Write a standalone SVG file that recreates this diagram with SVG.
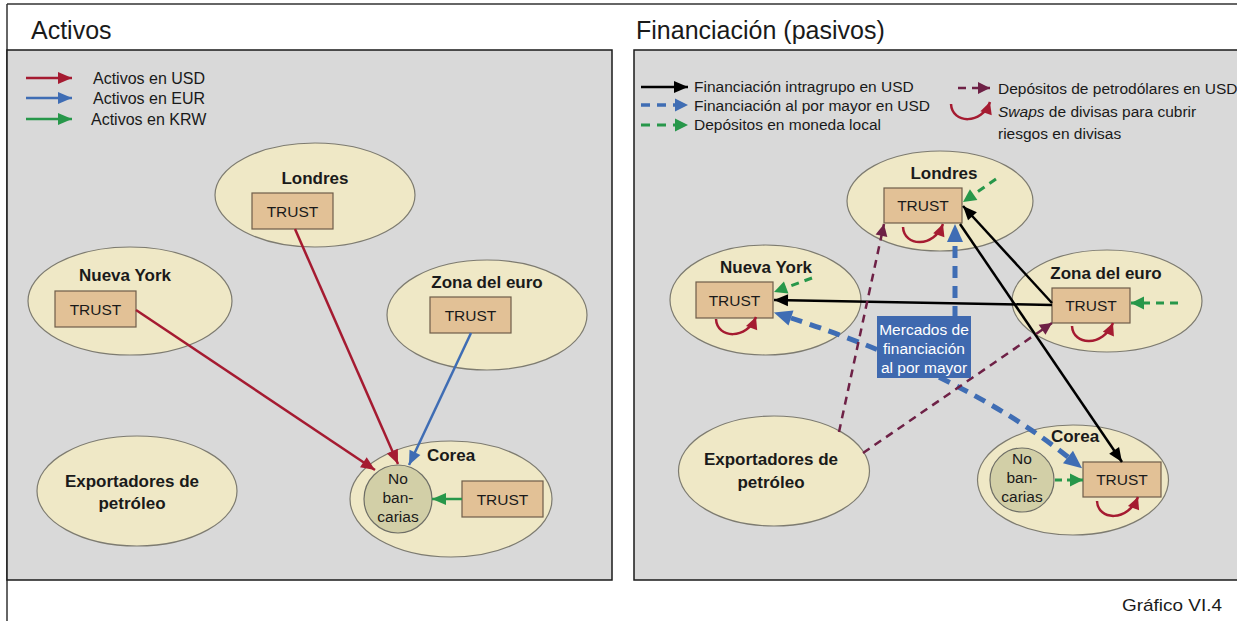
<svg xmlns="http://www.w3.org/2000/svg" width="1237" height="621" viewBox="0 0 1237 621">
<defs>
<style>
.t{font-family:"Liberation Sans",Arial,sans-serif;fill:#1a1a1a}
.title{font-size:25px}
.leg{font-size:15.5px}
.legl{font-size:16px}
.lbl{font-size:17px;font-weight:bold;text-anchor:middle}
.tr{font-size:15.5px;text-anchor:middle}
.wt{font-size:15.5px;text-anchor:middle;fill:#ffffff}
.ell{fill:#efe8c6;stroke:#7d7b70;stroke-width:1.2}
.box{fill:#e2c196;stroke:#6e5d4a;stroke-width:1.2}
.circ{fill:#d2cfa7;stroke:#6e6e66;stroke-width:1.2}
.panel{fill:#d9d9d9;stroke:#1a1a1a;stroke-width:1.5}
.red{stroke:#a51b31;stroke-width:2.5;fill:none}
.blue{stroke:#3f6db4;stroke-width:2.5;fill:none}
.green{stroke:#27974a;stroke-width:2.5;fill:none}
.blk{stroke:#000;stroke-width:2.5;fill:none}
.bdash{stroke:#3f6db4;stroke-width:5;fill:none;stroke-dasharray:12 8}
.gdash{stroke:#27974a;stroke-width:3;fill:none;stroke-dasharray:8 6}
.pdash{stroke:#6e2146;stroke-width:2.5;fill:none;stroke-dasharray:8 6}
.swap{stroke:#a51b31;stroke-width:2.5;fill:none}
</style>
<marker id="mRed" markerUnits="userSpaceOnUse" markerWidth="14" markerHeight="12" viewBox="0 0 14 12" refX="14" refY="6" orient="auto" overflow="visible"><path d="M0,0 L14,6 L0,12 z" fill="#a51b31"/></marker>
<marker id="mBlue" markerUnits="userSpaceOnUse" markerWidth="14" markerHeight="12" viewBox="0 0 14 12" refX="14" refY="6" orient="auto" overflow="visible"><path d="M0,0 L14,6 L0,12 z" fill="#3f6db4"/></marker>
<marker id="mGreen" markerUnits="userSpaceOnUse" markerWidth="14" markerHeight="12" viewBox="0 0 14 12" refX="14" refY="6" orient="auto" overflow="visible"><path d="M0,0 L14,6 L0,12 z" fill="#27974a"/></marker>
<marker id="mBlk" markerUnits="userSpaceOnUse" markerWidth="14" markerHeight="12" viewBox="0 0 14 12" refX="14" refY="6" orient="auto" overflow="visible"><path d="M0,0 L14,6 L0,12 z" fill="#000"/></marker>
<marker id="mPur" markerUnits="userSpaceOnUse" markerWidth="12" markerHeight="12" viewBox="0 0 12 12" refX="12" refY="6" orient="auto" overflow="visible"><path d="M0,0 L12,6 L0,12 z" fill="#6e2146"/></marker>
<marker id="mGd" markerUnits="userSpaceOnUse" markerWidth="13" markerHeight="13" viewBox="0 0 13 13" refX="13" refY="6.5" orient="auto" overflow="visible"><path d="M0,0 L13,6.5 L0,13 z" fill="#27974a"/></marker>
<marker id="mBd" markerUnits="userSpaceOnUse" markerWidth="18" markerHeight="16" viewBox="0 0 18 16" refX="0" refY="8" orient="auto-start-reverse" overflow="visible"><path d="M0,0 L18,8 L0,16 z" fill="#3f6db4"/></marker>
<marker id="mBdS" markerUnits="userSpaceOnUse" markerWidth="13" markerHeight="13" viewBox="0 0 13 13" refX="0" refY="6.5" orient="auto" overflow="visible"><path d="M0,0 L13,6.5 L0,13 z" fill="#3f6db4"/></marker>
<marker id="mSw" markerUnits="userSpaceOnUse" markerWidth="12" markerHeight="12" viewBox="0 0 12 12" refX="12" refY="6" orient="auto" overflow="visible"><path d="M0,0 L12,6 L0,12 z" fill="#a51b31"/></marker>
</defs>

<rect x="0" y="0" width="1237" height="621" fill="#ffffff"/>
<line x1="7" y1="4" x2="1237" y2="4" stroke="#333" stroke-width="1.5"/>
<line x1="7" y1="4" x2="7" y2="621" stroke="#333" stroke-width="1.5"/>

<!-- Left panel -->
<rect class="panel" x="7" y="50" width="605" height="530"/>
<text class="t title" x="31" y="39">Activos</text>

<g id="legend-left">
<line class="red" x1="26" y1="78" x2="72" y2="78" marker-end="url(#mRed)"/>
<line class="blue" x1="26" y1="98" x2="72" y2="98" marker-end="url(#mBlue)"/>
<line class="green" x1="26" y1="119" x2="72" y2="119" marker-end="url(#mGreen)"/>
<text class="t legl" x="93" y="84">Activos en USD</text>
<text class="t legl" x="93" y="104">Activos en EUR</text>
<text class="t legl" x="91" y="125">Activos en KRW</text>
</g>

<g id="l-londres">
<ellipse class="ell" cx="315" cy="195" rx="100" ry="52"/>
<text class="t lbl" x="315" y="184">Londres</text>
<rect class="box" x="252" y="193" width="81" height="36"/>
<text class="t tr" x="292.5" y="217">TRUST</text>
</g>
<g id="l-nuevayork">
<ellipse class="ell" cx="130" cy="301" rx="102" ry="54"/>
<text class="t lbl" x="125" y="281">Nueva York</text>
<rect class="box" x="55" y="291" width="81" height="36"/>
<text class="t tr" x="95.5" y="315">TRUST</text>
</g>
<g id="l-zona">
<ellipse class="ell" cx="487" cy="315" rx="100" ry="55"/>
<text class="t lbl" x="487" y="288">Zona del euro</text>
<rect class="box" x="430" y="297" width="81" height="36"/>
<text class="t tr" x="470.5" y="321">TRUST</text>
</g>
<g id="l-export">
<ellipse class="ell" cx="137" cy="491" rx="100" ry="55"/>
<text class="t lbl" x="132" y="487">Exportadores de</text>
<text class="t lbl" x="132" y="509">petróleo</text>
</g>
<g id="l-corea">
<ellipse class="ell" cx="451" cy="499" rx="101" ry="58"/>
<text class="t lbl" x="451" y="461">Corea</text>
<rect class="box" x="462" y="481" width="81" height="36"/>
<text class="t tr" x="502.5" y="505">TRUST</text>
</g>
<g id="l-nobanc">
<circle class="circ" cx="398" cy="499" r="34"/>
<text class="t tr" x="398" y="484">No</text>
<text class="t tr" x="398" y="503">ban-</text>
<text class="t tr" x="398" y="522">carias</text>
</g>

<g id="l-connectors">
<line class="red" x1="136" y1="310" x2="375" y2="470" marker-end="url(#mRed)"/>
<line class="red" x1="295" y1="229" x2="398" y2="464" marker-end="url(#mRed)"/>
<line class="blue" x1="471" y1="333" x2="409" y2="465" marker-end="url(#mBlue)"/>
<line class="green" x1="462" y1="499" x2="432" y2="499" marker-end="url(#mGreen)"/>
</g>

<!-- Right panel -->
<rect class="panel" x="634" y="50" width="610" height="530"/>
<text class="t title" x="636" y="39">Financiación (pasivos)</text>

<g id="legend-right">
<line class="blk" x1="641" y1="87" x2="688" y2="87" marker-end="url(#mBlk)"/>
<line class="bdash" x1="641" y1="105" x2="675" y2="105" style="stroke-width:3.5;stroke-dasharray:9 7" marker-end="url(#mBdS)"/>
<line class="gdash" x1="641" y1="125" x2="688" y2="125" style="stroke-dasharray:9 7" marker-end="url(#mGd)"/>
<text class="t leg" x="694" y="92">Financiación intragrupo en USD</text>
<text class="t leg" x="694" y="111">Financiación al por mayor en USD</text>
<text class="t leg" x="694" y="130">Depósitos en moneda local</text>
<line class="pdash" x1="958" y1="88" x2="990" y2="88" style="stroke-dasharray:8 6" marker-end="url(#mPur)"/>
<path class="swap" d="M951 104 c1 20 31 21 39 -2" marker-end="url(#mSw)"/>
<text class="t leg" x="998" y="94">Depósitos de petrodólares en USD</text>
<text class="t leg" x="998" y="117"><tspan font-style="italic">Swaps</tspan> de divisas para cubrir</text>
<text class="t leg" x="998" y="139">riesgos en divisas</text>
</g>

<g id="r-londres">
<ellipse class="ell" cx="940" cy="201" rx="93" ry="50"/>
<text class="t lbl" x="944" y="179">Londres</text>
<rect class="box" x="884" y="188" width="78" height="35"/>
<text class="t tr" x="923" y="211">TRUST</text>
</g>
<g id="r-nuevayork">
<ellipse class="ell" cx="765.5" cy="300" rx="95.5" ry="55"/>
<text class="t lbl" x="766" y="273">Nueva York</text>
<rect class="box" x="696" y="282" width="77" height="36"/>
<text class="t tr" x="734.5" y="306">TRUST</text>
</g>
<g id="r-zona">
<ellipse class="ell" cx="1107" cy="301" rx="95" ry="51"/>
<text class="t lbl" x="1106" y="279">Zona del euro</text>
<rect class="box" x="1052" y="288" width="78" height="35"/>
<text class="t tr" x="1091" y="311">TRUST</text>
</g>
<g id="r-export">
<ellipse class="ell" cx="774" cy="471" rx="95.5" ry="55"/>
<text class="t lbl" x="771" y="465">Exportadores de</text>
<text class="t lbl" x="771" y="488">petróleo</text>
</g>
<g id="r-corea">
<ellipse class="ell" cx="1073" cy="480" rx="95.5" ry="55"/>
<text class="t lbl" x="1075" y="442">Corea</text>
<rect class="box" x="1083" y="462" width="78" height="35"/>
<text class="t tr" x="1122" y="485">TRUST</text>
</g>
<g id="r-nobanc">
<circle class="circ" cx="1022" cy="480" r="32"/>
<text class="t tr" x="1022" y="464">No</text>
<text class="t tr" x="1022" y="483">ban-</text>
<text class="t tr" x="1022" y="502">carias</text>
</g>

<g id="r-connectors">
<!-- wholesale funding (blue dashed) -->
<path class="bdash" d="M1068 457 Q965 375 791 318" marker-start="url(#mBd)" marker-end="url(#mBd)"/>
<line class="bdash" x1="955" y1="318" x2="955" y2="242" marker-end="url(#mBd)"/>
<!-- intragroup (black) -->
<line class="blk" x1="1052" y1="303" x2="963" y2="206" marker-end="url(#mBlk)"/>
<line class="blk" x1="1052" y1="305" x2="774" y2="300" marker-end="url(#mBlk)"/>
<line class="blk" x1="960" y1="224" x2="1122" y2="462" marker-end="url(#mBlk)"/>
<!-- petrodollar deposits (purple dashed) -->
<line class="pdash" x1="839" y1="432" x2="884" y2="224" marker-end="url(#mPur)"/>
<line class="pdash" x1="863" y1="453" x2="1052" y2="323" marker-end="url(#mPur)"/>
<!-- local deposits (green dashed) -->
<line class="gdash" x1="996" y1="179" x2="963" y2="202" marker-end="url(#mGd)"/>
<line class="gdash" x1="812" y1="278" x2="774" y2="292" marker-end="url(#mGd)"/>
<line class="gdash" x1="1178" y1="303" x2="1131" y2="303" marker-end="url(#mGd)"/>
<line class="gdash" x1="1055" y1="480" x2="1083" y2="480" style="stroke-dasharray:7 5" marker-end="url(#mGd)"/>
<!-- FX swaps -->
<path class="swap" d="M903 227 c1 20 31 21 40 -3" marker-end="url(#mSw)"/>
<path class="swap" d="M716 319 c1 20 31 21 40 -2" marker-end="url(#mSw)"/>
<path class="swap" d="M1072 326 c1 20 31 21 41 -3" marker-end="url(#mSw)"/>
<path class="swap" d="M1097 501 c1 20 31 21 41 -4" marker-end="url(#mSw)"/>
</g>

<g id="r-mercados">
<rect x="877" y="316" width="94" height="62" fill="#3f69af"/>
<text class="t wt" x="924" y="335">Mercados de</text>
<text class="t wt" x="924" y="354">financiación</text>
<text class="t wt" x="924" y="373">al por mayor</text>
</g>

<text class="t" x="1122" y="611" font-size="17" textLength="100" lengthAdjust="spacingAndGlyphs">Gráfico VI.4</text>
</svg>
